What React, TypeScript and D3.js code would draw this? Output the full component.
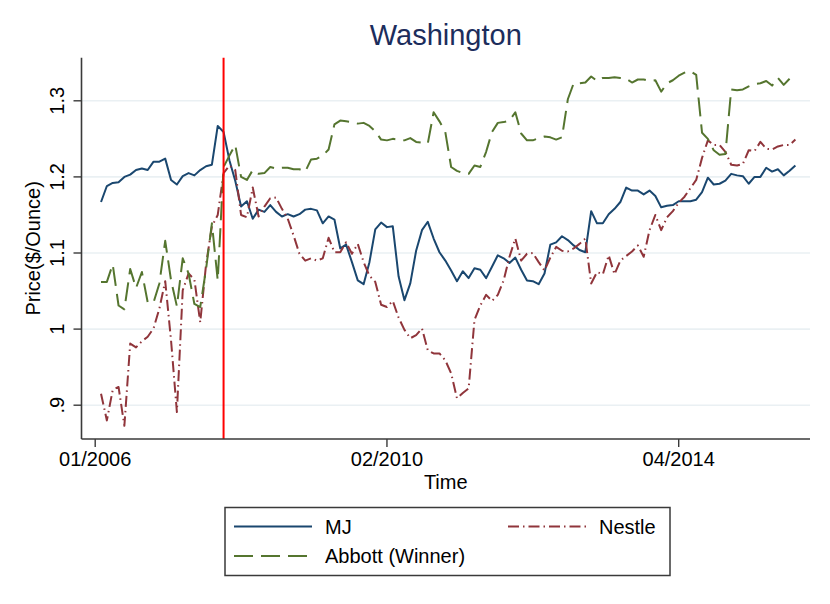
import * as d3 from 'd3';

// month index: 0 = 01/2006 tick, data start at month 1
const mjMonths = d3.range(1, 121);
const mjPrice = [
  1.167, 1.188, 1.192, 1.193, 1.200, 1.203, 1.209, 1.211, 1.209, 1.220,
  1.220, 1.224, 1.196, 1.190, 1.201, 1.205, 1.202, 1.209, 1.214, 1.216,
  1.267, 1.259, 1.222, 1.195, 1.161, 1.168, 1.145, 1.157, 1.154, 1.163,
  1.154, 1.148, 1.151, 1.148, 1.151, 1.157, 1.158, 1.156, 1.139, 1.148,
  1.144, 1.106, 1.111, 1.088, 1.064, 1.059, 1.088, 1.131, 1.140, 1.134,
  1.135, 1.069, 1.038, 1.060, 1.103, 1.130, 1.141, 1.119, 1.101, 1.090,
  1.077, 1.063, 1.076, 1.067, 1.080, 1.078, 1.067, 1.082, 1.097, 1.093,
  1.087, 1.094, 1.078, 1.064, 1.063, 1.059, 1.073, 1.111, 1.114, 1.122,
  1.117, 1.110, 1.104, 1.101, 1.155, 1.139, 1.139, 1.151, 1.158, 1.167,
  1.186, 1.182, 1.182, 1.177, 1.182, 1.175, 1.160, 1.162, 1.163, 1.168,
  1.168, 1.168, 1.170, 1.180, 1.199, 1.190, 1.191, 1.195, 1.204, 1.202,
  1.201, 1.191, 1.200, 1.200, 1.212, 1.207, 1.210, 1.202, 1.208, 1.215,
];

const nestleMonths = d3.range(1, 121);
const nestlePrice = [
  0.915, 0.880, 0.920, 0.924, 0.873, 0.981, 0.976, 0.984, 0.990, 1.001,
  1.027, 1.063, 0.985, 0.891, 1.051, 1.073, 1.065, 1.009, 1.085, 1.135,
  1.150, 1.205, 1.215, 1.209, 1.150, 1.147, 1.186, 1.148, 1.161, 1.172,
  1.173, 1.158, 1.145, 1.123, 1.099, 1.090, 1.093, 1.090, 1.093, 1.120,
  1.101, 1.101, 1.114, 1.099, 1.112, 1.088, 1.070, 1.062, 1.032, 1.029,
  1.037, 1.015, 0.999, 0.988, 0.992, 1.001, 0.972, 0.968, 0.968, 0.959,
  0.942, 0.909, 0.916, 0.922, 1.012, 1.031, 1.045, 1.037, 1.045, 1.064,
  1.095, 1.119, 1.090, 1.099, 1.100, 1.088, 1.077, 1.094, 1.108, 1.103,
  1.102, 1.106, 1.112, 1.119, 1.060, 1.075, 1.072, 1.097, 1.072, 1.090,
  1.096, 1.102, 1.110, 1.095, 1.130, 1.150, 1.130, 1.147, 1.155, 1.166,
  1.174, 1.185, 1.196, 1.225, 1.248, 1.242, 1.242, 1.233, 1.216, 1.215,
  1.217, 1.235, 1.234, 1.246, 1.237, 1.236, 1.240, 1.242, 1.242, 1.249,
];

const abbottMonths = d3.range(1, 120);
const abbottPrice = [
  1.062, 1.062, 1.085, 1.031, 1.026, 1.079, 1.054, 1.075, 1.035, 1.035,
  1.060, 1.116, 1.064, 1.030, 1.093, 1.073, 1.033, 1.029, 1.079, 1.139,
  1.064, 1.213, 1.228, 1.242, 1.200, 1.196, 1.209, 1.204, 1.205, 1.213,
  1.211, 1.212, 1.212, 1.210, 1.210, 1.207, 1.223, 1.224, 1.228, 1.236,
  1.269, 1.274, 1.273, 1.272, 1.270, 1.271, 1.267, 1.260, 1.249, 1.248,
  1.250, 1.249, 1.248, 1.251, 1.246, 1.245, 1.244, 1.285, 1.273, 1.259,
  1.213, 1.208, 1.205, 1.204, 1.215, 1.213, 1.233, 1.259, 1.271, 1.272,
  1.274, 1.285, 1.257, 1.248, 1.248, 1.251, 1.253, 1.252, 1.249, 1.252,
  1.302, 1.323, 1.323, 1.324, 1.332, 1.326, 1.330, 1.330, 1.331, 1.330,
  1.329, 1.324, 1.328, 1.328, 1.326, 1.327, 1.312, 1.323, 1.327, 1.333,
  1.337, 1.339, 1.334, 1.258, 1.250, 1.235, 1.229, 1.230, 1.315, 1.314,
  1.315, 1.319, 1.322, 1.323, 1.326, 1.320, 1.330, 1.321, 1.329,
];

const xTickMonths = [0, 50, 100];
const xTickLabels = ['01/2006', '02/2010', '04/2014'];
const yTicks = [0.9, 1.0, 1.1, 1.2, 1.3];
const yTickLabels = ['.9', '1', '1.1', '1.2', '1.3'];
const eventMonth = 22;

const FONT = '"Liberation Sans", Arial, Helvetica, sans-serif';

const series = [
  { name: 'MJ', months: mjMonths, values: mjPrice, color: '#1a476f', dash: 'none' },
  { name: 'Nestle', months: nestleMonths, values: nestlePrice, color: '#90353b', dash: '11,4,1.5,4' },
  { name: 'Abbott (Winner)', months: abbottMonths, values: abbottPrice, color: '#55752f', dash: '19,8' },
];

export default function App() {
  const width = 830;
  const height = 604;
  const plot = { left: 81.5, right: 810, top: 57.7, bottom: 439 };

  const x = d3.scaleLinear().domain([0, 100]).range([95.2, 678.7]);
  const y = d3.scaleLinear().domain([0.9, 1.3]).range([405.2, 100.8]);

  const line = d3.line<[number, number]>()
    .x(d => x(d[0]))
    .y(d => y(d[1]));

  const legendRows = [
    { s: series[0], lx: 234, ty: 534, ly: 526.5 },
    { s: series[1], lx: 508, ty: 534, ly: 526.5 },
    { s: series[2], lx: 234, ty: 563, ly: 556 },
  ];

  return (
    <svg
      width={width}
      height={height}
      style={{ position: 'absolute', left: 0, top: 0, background: '#ffffff' }}
      fontFamily={FONT}
    >
      <rect x={0} y={0} width={width} height={height} fill="#ffffff" />

      {/* title */}
      <text x={(plot.left + plot.right) / 2} y={45} textAnchor="middle" fontSize={29} fill="#1c2d5c">
        Washington
      </text>

      {/* grid */}
      {yTicks.map(t => (
        <line key={`g${t}`} x1={plot.left} x2={plot.right} y1={y(t)} y2={y(t)} stroke="#eaf0f3" strokeWidth={1.6} />
      ))}

      {/* series */}
      {series.map(s => (
        <path
          key={s.name}
          d={line(s.months.map((m, i) => [m, s.values[i]] as [number, number])) || ''}
          fill="none"
          stroke={s.color}
          strokeWidth={2}
          strokeDasharray={s.dash}
          strokeLinejoin="round"
        />
      ))}

      {/* event line */}
      <line x1={x(eventMonth)} x2={x(eventMonth)} y1={plot.top} y2={plot.bottom} stroke="#ff0000" strokeWidth={2} />

      {/* axes */}
      <line x1={plot.left} x2={plot.left} y1={plot.top} y2={plot.bottom} stroke="#3a3a3a" strokeWidth={1.6} />
      <line x1={plot.left} x2={plot.right} y1={plot.bottom} y2={plot.bottom} stroke="#3a3a3a" strokeWidth={1.6} />

      {yTicks.map((t, i) => (
        <g key={`yt${t}`}>
          <line x1={plot.left - 8} x2={plot.left} y1={y(t)} y2={y(t)} stroke="#3a3a3a" strokeWidth={1.4} />
          <text
            transform={`translate(63.5,${y(t)}) rotate(-90)`}
            textAnchor="middle"
            fontSize={20}
            fill="#000"
          >
            {yTickLabels[i]}
          </text>
        </g>
      ))}

      {xTickMonths.map((m, i) => (
        <g key={`xt${m}`}>
          <line x1={x(m)} x2={x(m)} y1={plot.bottom} y2={plot.bottom + 8} stroke="#3a3a3a" strokeWidth={1.4} />
          <text x={x(m)} y={466} textAnchor="middle" fontSize={20} fill="#000">
            {xTickLabels[i]}
          </text>
        </g>
      ))}

      {/* axis titles */}
      <text x={(plot.left + plot.right) / 2} y={489} textAnchor="middle" fontSize={20} fill="#000">
        Time
      </text>
      <text
        transform={`translate(40,${(plot.top + plot.bottom) / 2}) rotate(-90)`}
        textAnchor="middle"
        fontSize={20}
        fill="#000"
      >
        Price($/Ounce)
      </text>

      {/* legend */}
      <rect x={225} y={507.5} width={445} height={68} fill="#ffffff" stroke="#3a3a3a" strokeWidth={1.5} />
      {legendRows.map(r => (
        <g key={`lg${r.s.name}`}>
          <line
            x1={r.lx}
            x2={r.lx + 78}
            y1={r.ly}
            y2={r.ly}
            stroke={r.s.color}
            strokeWidth={2}
            strokeDasharray={r.s.dash}
          />
          <text x={r.lx + 91} y={r.ty} fontSize={20} fill="#000">
            {r.s.name}
          </text>
        </g>
      ))}
    </svg>
  );
}
